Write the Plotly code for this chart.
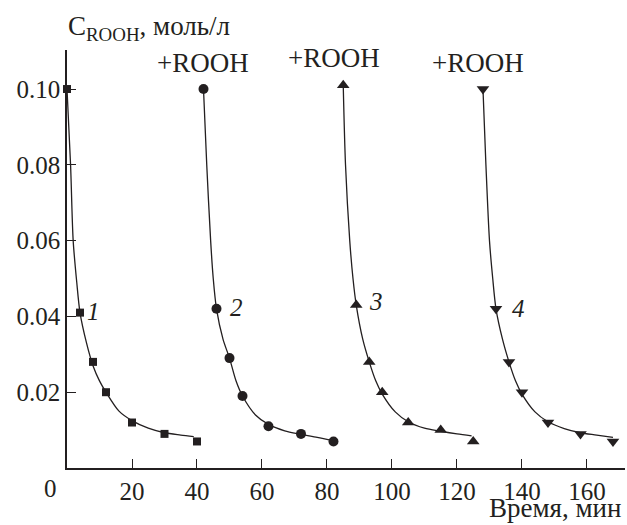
import plotly.graph_objects as go

# Measured points (time, min ; concentration, mol/L)
t1 = [0, 4, 8, 12, 20, 30, 40]
c1 = [0.100, 0.041, 0.028, 0.020, 0.012, 0.009, 0.007]
t2 = [42, 46, 50, 54, 62, 72, 82]
c2 = [0.100, 0.042, 0.029, 0.019, 0.011, 0.009, 0.007]
t3 = [85, 89, 93, 97, 105, 115, 125]
c3 = [0.101, 0.043, 0.028, 0.020, 0.012, 0.010, 0.007]
t4 = [128, 132, 136, 140, 148, 158, 168]
c4 = [0.100, 0.042, 0.028, 0.020, 0.012, 0.009, 0.007]

# Fitted curves
ft1 = [0, 1.1, 1.9, 3, 4, 6, 8, 10, 12, 16, 20, 25, 30, 35, 39]
fc1 = [0.100, 0.080, 0.060, 0.049, 0.041, 0.033, 0.027, 0.023, 0.020, 0.015, 0.0125, 0.0105, 0.0093, 0.0087, 0.0083]
ft2 = [42, 43, 44.2, 45, 46, 48, 50, 52, 54, 58, 62, 67, 72, 77, 82]
fc2 = [0.100, 0.080, 0.060, 0.050, 0.042, 0.034, 0.029, 0.023, 0.019, 0.014, 0.0115, 0.0098, 0.0089, 0.0081, 0.0072]
ft3 = [85, 85.7, 87, 88, 89, 91, 93, 95, 97, 101, 105, 110, 115, 120, 124.5]
fc3 = [0.101, 0.080, 0.060, 0.050, 0.043, 0.034, 0.028, 0.023, 0.0195, 0.0148, 0.0122, 0.0105, 0.0097, 0.0090, 0.0085]
ft4 = [128, 128.9, 130, 131, 132, 134, 136, 138, 140, 144, 148, 153, 158, 163, 168]
fc4 = [0.100, 0.080, 0.060, 0.050, 0.042, 0.034, 0.028, 0.023, 0.0195, 0.0148, 0.0122, 0.0104, 0.0093, 0.0087, 0.0081]

series_labels = ["1", "2", "3", "4"]
label_x = [8.3, 52.2, 95.2, 139.0]
label_y = [0.0412, 0.0424, 0.0439, 0.0422]
add_x = [41.8, 82.1, 126.5]
add_y = [0.1069, 0.1081, 0.1069]

x_ticks = [20, 40, 60, 80, 100, 120, 140, 160]
y_ticks = [0.02, 0.04, 0.06, 0.08, 0.10]
y_ticklabels = ["0.02", "0.04", "0.06", "0.08", "0.10"]

INK = "#231f20"
FONT = "Liberation Serif, Times New Roman, serif"
FS = 25

fig = go.Figure()
for ft, fc in [(ft1, fc1), (ft2, fc2), (ft3, fc3), (ft4, fc4)]:
    fig.add_trace(go.Scatter(x=ft, y=fc, mode="lines", line=dict(color=INK, width=1.3, shape="spline", smoothing=0.8),
                             showlegend=False, hoverinfo="skip", cliponaxis=False))

symbols = ["square", "circle", "triangle-up", "triangle-down"]
sizes = [8, 10, 11, 11]
for (t, c), s, sz in zip([(t1, c1), (t2, c2), (t3, c3), (t4, c4)], symbols, sizes):
    fig.add_trace(go.Scatter(x=t, y=c, mode="markers", marker=dict(symbol=s, size=sz, color=INK, line=dict(width=0)),
                             showlegend=False, cliponaxis=False))

ann = []
for lx, ly, lab in zip(label_x, label_y, series_labels):
    ann.append(dict(x=lx, y=ly, xref="x", yref="y", text=f"<i>{lab}</i>", showarrow=False,
                    font=dict(family=FONT, size=FS, color=INK), xanchor="center", yanchor="middle"))
for ax_, ay_ in zip(add_x, add_y):
    ann.append(dict(x=ax_, y=ay_, xref="x", yref="y", text="+ROOH", showarrow=False,
                    font=dict(family=FONT, size=27, color=INK), xanchor="center", yanchor="middle"))
ann.append(dict(x=0, y=0, xref="paper", yref="paper", text="0", showarrow=False, xanchor="center", yanchor="middle",
                xshift=-17, yshift=-20, font=dict(family=FONT, size=FS, color=INK)))
ann.append(dict(x=0, y=1, xref="paper", yref="paper", text="C<sub>ROOH</sub>, моль/л", showarrow=False,
                xanchor="left", yanchor="middle", xshift=-1, yshift=22, font=dict(family=FONT, size=27, color=INK)))
ann.append(dict(x=1, y=0, xref="paper", yref="paper", text="Время, мин", showarrow=False,
                xanchor="right", yanchor="bottom", xshift=-2, yshift=-57, font=dict(family=FONT, size=27, color=INK)))

fig.update_layout(
    width=627, height=525,
    margin=dict(l=67, r=2, t=50, b=57),
    paper_bgcolor="white", plot_bgcolor="white",
    font=dict(family=FONT, size=FS, color=INK),
    annotations=ann,
    xaxis=dict(range=[0, 171.7], tickvals=x_ticks, ticks="inside", ticklen=9, tickwidth=1.2, tickcolor=INK,
               showline=True, linecolor=INK, linewidth=1.5, showgrid=False, zeroline=False, automargin=False,
               tickfont=dict(family=FONT, size=FS, color=INK)),
    yaxis=dict(range=[0, 0.1103], tickvals=y_ticks, ticktext=y_ticklabels, ticks="inside", ticklen=9, tickwidth=1.2,
               tickcolor=INK, showline=True, linecolor=INK, linewidth=1.5, showgrid=False, zeroline=False,
               automargin=False, tickfont=dict(family=FONT, size=FS, color=INK)),
)
fig.write_html("out.html", config={"displayModeBar": False},
               post_script="document.body.style.margin='0';document.body.style.overflow='hidden';")
